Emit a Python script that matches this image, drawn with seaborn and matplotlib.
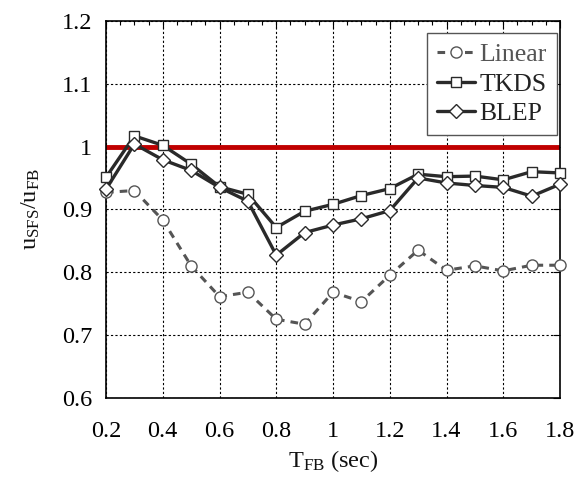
import numpy as np
import pandas as pd
import matplotlib
matplotlib.use("Agg")
import matplotlib.pyplot as plt
from matplotlib.ticker import MultipleLocator
import seaborn as sns

periods = [0.2, 0.3, 0.4, 0.5, 0.6, 0.7, 0.8, 0.9, 1.0, 1.1, 1.2, 1.3, 1.4, 1.5, 1.6, 1.7, 1.8]
linear = [0.927, 0.930, 0.883, 0.810, 0.761, 0.768, 0.725, 0.717, 0.768, 0.753, 0.795, 0.835, 0.803, 0.810, 0.802, 0.811, 0.811]
tkds = [0.951, 1.017, 1.002, 0.972, 0.936, 0.924, 0.871, 0.897, 0.908, 0.922, 0.933, 0.956, 0.952, 0.953, 0.947, 0.960, 0.958]
blep = [0.932, 1.004, 0.979, 0.962, 0.935, 0.913, 0.827, 0.863, 0.875, 0.885, 0.898, 0.950, 0.942, 0.938, 0.935, 0.921, 0.940]
ref_line = [1.0, 1.0]
ref_x = [0.2, 1.8]

sns.set_theme(style="white")
plt.rcParams['font.family'] = ['Liberation Serif', 'DejaVu Serif']
plt.rcParams['mathtext.fontset'] = 'custom'
plt.rcParams['mathtext.rm'] = 'Liberation Serif'
plt.rcParams['mathtext.it'] = 'Liberation Serif:italic'

fig = plt.figure(figsize=(5.78, 4.91), dpi=100)
ax = fig.add_axes([106/578, 1-397.7/491, 454/578, 376.7/491])

df = pd.DataFrame({"T": periods, "Linear": linear, "TKDS": tkds, "BLEP": blep})
ref = pd.DataFrame({"T": ref_x, "r": ref_line})

sns.lineplot(data=ref, x="T", y="r", ax=ax, color="#c00000", lw=3.5, zorder=2)
sns.lineplot(data=df, x="T", y="Linear", ax=ax, color="#555555", lw=2.2,
             linestyle=(0, (2.5, 2)), marker="o", markersize=8,
             markerfacecolor="white", markeredgecolor="#555555", markeredgewidth=1.0,
             label="Linear", zorder=3, clip_on=False)
sns.lineplot(data=df, x="T", y="TKDS", ax=ax, color="#2a2a2a", lw=2.4,
             marker="s", markersize=6.5, markerfacecolor="white",
             markeredgecolor="#2a2a2a", markeredgewidth=1.0, label="TKDS", zorder=4,
             clip_on=False)
sns.lineplot(data=df, x="T", y="BLEP", ax=ax, color="#2a2a2a", lw=2.4,
             marker="D", markersize=7, markerfacecolor="white",
             markeredgecolor="#2a2a2a", markeredgewidth=1.0, label="BLEP", zorder=5,
             clip_on=False)

ax.set_xlim(0.2, 1.8)
ax.set_ylim(0.6, 1.2)
ax.xaxis.set_minor_locator(MultipleLocator(0.05))
ax.set_xticks(np.round(np.arange(0.2, 1.81, 0.2), 1))
ax.set_xticklabels(["0.2", "0.4", "0.6", "0.8", "1", "1.2", "1.4", "1.6", "1.8"])
ax.set_yticks(np.round(np.arange(0.6, 1.21, 0.1), 1))
ax.set_yticklabels(["0.6", "0.7", "0.8", "0.9", "1", "1.1", "1.2"])
ax.tick_params(which="both", direction="in", top=True, right=True, labelsize=17.5,
               colors="black")
ax.tick_params(axis="x", which="major", pad=17)
ax.tick_params(axis="y", which="major", pad=10)
ax.tick_params(which="major", length=5, width=0.8)
ax.tick_params(which="minor", length=3, width=0.8)
ax.grid(True, which="major", color="black", linestyle=(0, (2, 2)), lw=0.8)
for s in ax.spines.values():
    s.set_color("black")
    s.set_linewidth(1.2)

ax.set_xlabel(r"$\mathregular{T_{FB}}$ (sec)", fontsize=17.5, color="#111111", labelpad=4)
ax.set_ylabel(r"$\mathregular{u_{SFS}/u_{FB}}$", fontsize=17.5, color="#111111", labelpad=14)

leg = ax.legend(loc="upper right", bbox_to_anchor=(0.9934, 0.968), borderaxespad=0,
                fontsize=18.5, frameon=True, fancybox=False, handlelength=1.5,
                handletextpad=0.15, labelspacing=0.25, borderpad=0.4)
leg.get_frame().set_edgecolor("#555555")
leg.get_frame().set_linewidth(1.0)
leg.get_frame().set_alpha(1)
cols = ["#555555", "#222222", "#222222"]
for t, c in zip(leg.get_texts(), cols):
    t.set_color(c)

fig.savefig("out.png", dpi=100)
